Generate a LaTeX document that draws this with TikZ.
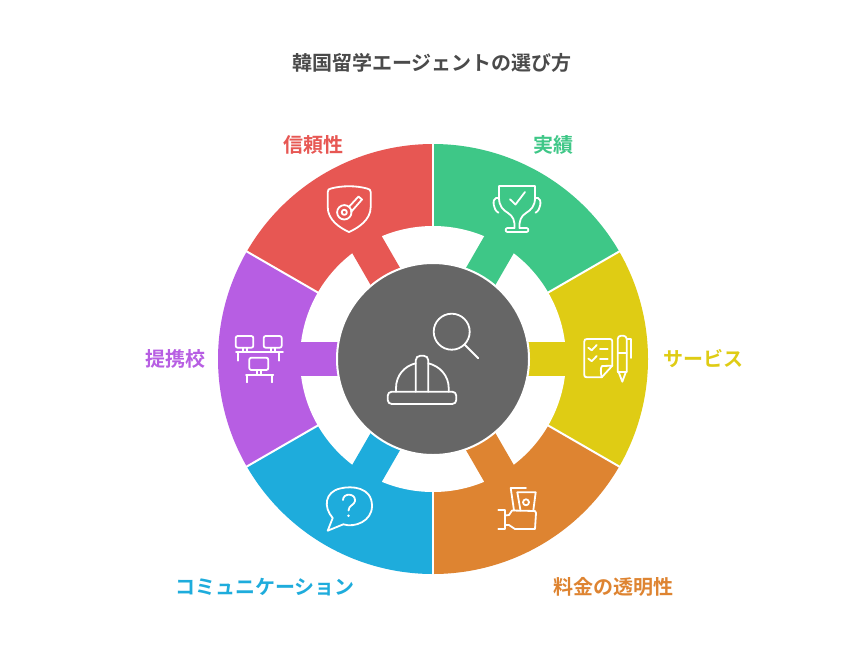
\documentclass[tikz,border=0pt]{standalone}
\usepackage{fontspec}
\setmainfont{Noto Sans CJK JP}[BoldFont={Noto Sans CJK JP Bold}]
\definecolor{cRed}{HTML}{E75753}
\definecolor{cGreen}{HTML}{3EC787}
\definecolor{cYellow}{HTML}{DFCC14}
\definecolor{cOrange}{HTML}{DE8431}
\definecolor{cBlue}{HTML}{1EACDC}
\definecolor{cPurple}{HTML}{B75EE3}
\definecolor{cHub}{HTML}{666666}
\definecolor{cTitle}{HTML}{4A4A4A}
\tikzset{
  icon/.style={draw=white,line width=1.35pt,line cap=round,line join=round,fill=none},
  lab/.style={font=\fontsize{15pt}{17pt}\selectfont\bfseries,inner sep=0pt,anchor=center}
}
\newcommand{\sect}[2]{%
  \fill[#2] (0,0) -- (#1-30:215) arc[start angle=#1-30,end angle=#1+30,radius=215] -- cycle;}
\newcommand{\tabbar}[2]{%
  \fill[#2,rotate=-#1] (85,-17) rectangle (136,17);}
\begin{document}
\begin{tikzpicture}[x=.75pt,y=-.75pt]
\useasboundingbox (0,0) rectangle (866,650);
\fill[white] (0,0) rectangle (866,650);
\begin{scope}[shift={(433,359)},yscale=-1]
  \sect{60}{cGreen}\sect{120}{cRed}\sect{180}{cPurple}\sect{240}{cBlue}\sect{300}{cOrange}\sect{0}{cYellow}
  \foreach \a in {30,90,150,210,270,330}{\draw[white,line width=1.5pt] (0,0) -- (\a:216);}
  \fill[white] (0,0) circle (133);
  \tabbar{0}{cYellow}\tabbar{60}{cGreen}\tabbar{120}{cRed}\tabbar{180}{cPurple}\tabbar{240}{cBlue}\tabbar{300}{cOrange}
  \draw[fill=cHub,draw=white,line width=1.5pt] (0,0) circle (96);
\end{scope}
\node[lab,text=cTitle] (title) at (432,62.5) {韓国留学エージェントの選び方};
\node[lab,text=cRed] (l1) at (313,144.5) {信頼性};
\node[lab,text=cGreen] (l2) at (553,144.5) {実績};
\node[lab,text=cYellow] (l3) at (703,358.5) {サービス};
\node[lab,text=cOrange] (l4) at (613,587) {料金の透明性};
\node[lab,text=cBlue] (l5) at (265,587) {コミュニケーション};
\node[lab,text=cPurple] (l6) at (175,358.5) {提携校};
% hub: hard hat
\draw[icon,rounded corners=3pt] (387.7,391.7) rectangle (456.3,404);
\draw[icon,rounded corners=3.5pt] (415.7,391.7) -- (415.7,355.7) -- (428.3,355.7) -- (428.3,391.7);
\draw[icon] (396,391.7) -- (396,388) .. controls (396,376) and (404,366) .. (415.7,363.3);
\draw[icon] (448.7,391.7) -- (448.7,388) .. controls (448.7,376) and (440,366) .. (428.3,363.3);
\draw[icon] (451.7,331.7) circle (18);
\draw[icon] (464.5,344.5) -- (478.3,358.3);
% shield + key
\draw[icon] (327.7,192) .. controls (327.7,189.5) and (329,189) .. (331,188.5) .. controls (342,185.5) and (356,185.5) .. (367,188.5) .. controls (369.5,189) and (370.7,190) .. (370.7,192) -- (370.7,207) .. controls (370.7,220) and (358,228) .. (349,232) .. controls (340,228) and (327.7,220) .. (327.7,207) -- cycle;
\draw[icon] (344.3,212.3) circle (7.2);
\draw[icon] (344.3,212.3) circle (2.6);
\draw[icon] (349,206.8) -- (358.5,196.5) -- (362,199.5) -- (351,212);
% trophy
\draw[icon] (499,186) -- (535,186) -- (535,198) .. controls (535,206) and (531,210) .. (526,213) .. controls (521,216) and (519,221) .. (519.5,228) -- (526.5,228) .. controls (529,228) and (529,232) .. (526.5,232) -- (507.5,232) .. controls (505,232) and (505,228) .. (507.5,228) -- (514.5,228) .. controls (515,221) and (513,216) .. (508,213) .. controls (503,210) and (499,206) .. (499,198) -- cycle;
\draw[icon] (499,198) -- (496,198) .. controls (492,199) and (493,210) .. (498.5,212.7);
\draw[icon] (535,198) -- (538,198) .. controls (542,199) and (541,210) .. (535.5,212.7);
\draw[icon] (510,199.3) -- (515.5,204.5) -- (525,192);
% service: document + pen
\draw[icon] (601.7,377.3) -- (587,377.3) .. controls (585,377.3) and (584.3,376.5) .. (584.3,375) -- (584.3,341.5) .. controls (584.3,339.8) and (585,339) .. (587,339) -- (610,339) .. controls (611.5,339) and (612.3,339.8) .. (612.3,341.5) -- (612.3,365.7) -- cycle;
\draw[icon] (601.7,377.3) .. controls (600.5,372) and (600.5,368) .. (602,366) -- (612.3,365.7);
\draw[icon] (588.3,347.7) -- (591.7,350.3) -- (596.7,345);
\draw[icon] (588.3,358.5) -- (591.7,361.2) -- (596.7,356);
\draw[icon] (600,349) -- (607.7,349);
\draw[icon] (600,359.3) -- (607.7,359.3);
\draw[icon,rounded corners=2.5pt] (617.7,371.7) -- (617.7,335.7) -- (626.7,335.7) -- (626.7,371.7);
\draw[icon] (617.7,371.7) -- (626.7,371.7);
\draw[icon] (617.7,353.3) -- (626.7,353.3);
\draw[icon] (618.5,371.7) -- (622.3,381.7) -- (626,371.7);
\draw[icon] (626.7,339) -- (630.7,339) -- (630.7,358);
% money + hand
\draw[icon] (514,510.5) -- (510.7,488) -- (526,488);
\draw[icon] (520.5,510.5) -- (517.3,492.3) -- (535.7,492.3) -- (533.3,510.5);
\draw[icon] (526,502.3) circle (3);
\draw[icon] (498.3,510) -- (505,510) -- (505,529) -- (498.3,529);
\draw[icon] (505,515.5) -- (509,515) -- (512,510.5) -- (535,511) -- (536,513) -- (535,529) -- (515,529) -- (509,525) -- (505,525);
% chat bubble
\draw[icon] (332.7,518) .. controls (323,507) and (325,492) .. (340,488.5) .. controls (352,485.5) and (372,487) .. (372,506) .. controls (372,521) and (355,528) .. (343.3,524.3) -- (327.7,530.7) -- cycle;
\draw[icon] (343,500) .. controls (343,492.5) and (356,493) .. (355,501) .. controls (354.5,505) and (348.5,505.5) .. (348.5,510.5);
\fill[white] (348.5,515.7) circle (1.4);
% network desks
\draw[icon,rounded corners=1.5pt] (235.7,336) rectangle (253.3,347.7);
\draw[icon,rounded corners=1.5pt] (263.7,336) rectangle (281.7,347.7);
\draw[icon,rounded corners=1.5pt] (249.3,357.7) rectangle (268.3,370);
\draw[icon] (238.3,360.7) -- (238.3,351.7) (279,351.7) -- (279,360.7);
\draw[icon] (236,351.7) -- (283,351.7);
\draw[icon] (242.7,347.7) -- (242.7,351.7) (246.7,347.7) -- (246.7,351.7);
\draw[icon] (270.7,347.7) -- (270.7,351.7) (274.7,347.7) -- (274.7,351.7);
\draw[icon] (256.7,370) -- (256.7,375) (260.7,370) -- (260.7,375);
\draw[icon] (246.7,382.3) -- (246.7,375) (271.7,382.3) -- (271.7,375) (246,375) -- (273.3,375);
\end{tikzpicture}
\end{document}
